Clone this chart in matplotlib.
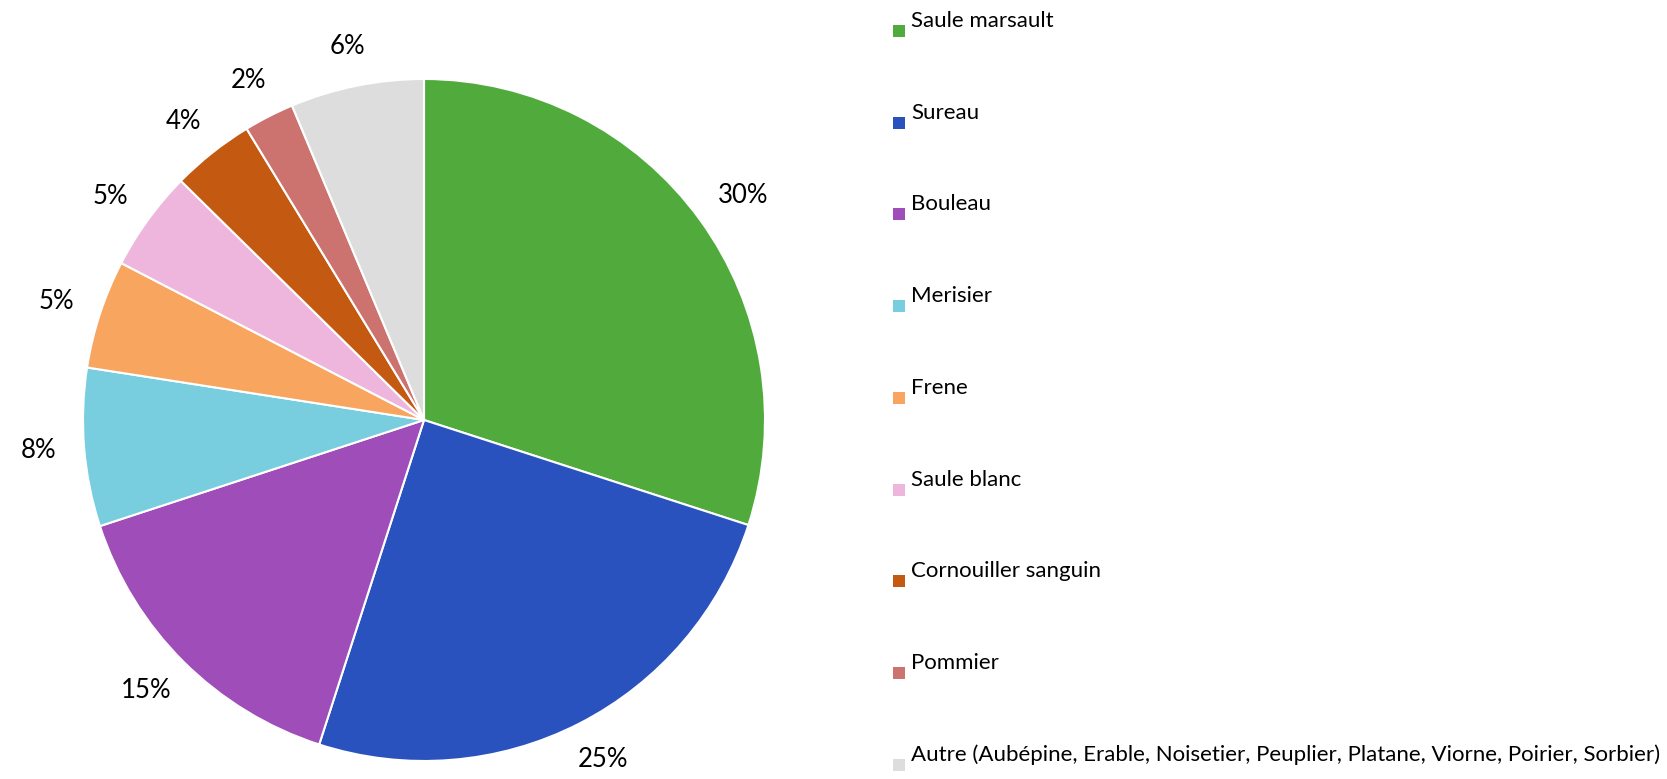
import numpy as np
import matplotlib
matplotlib.use('Agg')
import matplotlib.pyplot as plt
from matplotlib.patches import Rectangle

# Parts of each species (in %)
species = ['Saule marsault', 'Sureau', 'Bouleau', 'Merisier', 'Frene',
           'Saule blanc', 'Cornouiller sanguin', 'Pommier',
           'Autre (Aubépine, Erable, Noisetier, Peuplier, Platane, Viorne, Poirier, Sorbier)']
shares = [30.0, 25.0, 15.0, 7.5, 5.15, 4.76, 3.93, 2.38, 6.33]
pct_labels = ['30%', '25%', '15%', '8%', '5%', '5%', '4%', '2%', '6%']
colors = ['#50AB3C', '#2A52BE', '#9F4DB8', '#78CEDE', '#F7A55F',
          '#EEB6DC', '#C45A11', '#CC7370', '#DDDDDD']

plt.rcParams['font.family'] = ['Lato', 'DejaVu Sans']

W, H = 1667, 779
fig = plt.figure(figsize=(W / 100, H / 100), dpi=100)

# pie centre and radius in pixels
cx, cy, r = 424, 420, 341
ax = fig.add_axes([(cx - r) / W, (H - cy - r) / H, 2 * r / W, 2 * r / H])

label_iter = iter(pct_labels)
wedges, texts, autotexts = ax.pie(
    shares, colors=colors, startangle=90, counterclock=False,
    autopct=lambda p: next(label_iter), pctdistance=1.1,
    wedgeprops=dict(edgecolor='white', linewidth=1.5),
    textprops=dict(fontsize=18.5, color='black'))
ax.set_xlim(-1, 1)
ax.set_ylim(-1, 1)
ax.set_aspect('equal')

# put each label just outside the rim, like "outside end" labels
fig.canvas.draw()
renderer = fig.canvas.get_renderer()
gap = 28
centre_px = ax.transData.transform((0, 0))
for w, t in zip(wedges, autotexts):
    ang = np.deg2rad((w.theta1 + w.theta2) / 2)
    bb = t.get_window_extent(renderer)
    px = centre_px[0] + (r + gap) * np.cos(ang) + bb.width / 2 * np.cos(ang)
    py = centre_px[1] + (r + gap) * np.sin(ang) + bb.height / 2 * np.sin(ang)
    t.set_position(ax.transData.inverted().transform((px, py)))
    t.set_ha('center')
    t.set_va('center')

# legend drawn by hand, one entry per row
x_box, x_text = 893, 911
y_first, y_step = 21, 91.7
box = 12
for i, (name, col) in enumerate(zip(species, colors)):
    y = y_first + i * y_step
    fig.patches.append(Rectangle((x_box / W, (H - y - 16) / H), box / W, box / H,
                                 transform=fig.transFigure, facecolor=col,
                                 edgecolor='none'))
    fig.text(x_text / W, (H - y) / H, name, fontsize=16, va='center', ha='left')

fig.savefig('out.png', dpi=100)
